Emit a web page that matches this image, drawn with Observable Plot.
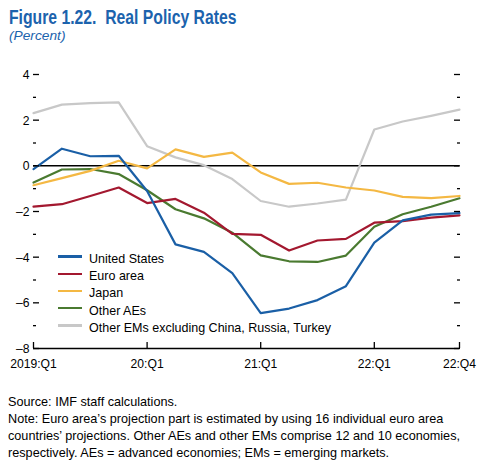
<!DOCTYPE html>
<html><head><meta charset="utf-8">
<script src="https://cdn.jsdelivr.net/npm/d3@7"></script>
<script src="https://cdn.jsdelivr.net/npm/@observablehq/plot@0.6"></script>
<style>
body{margin:0;background:#fff;width:480px;height:473px;position:relative;overflow:hidden;font-family:"Liberation Sans",Arial,sans-serif;color:#000}
.fit{display:inline-block;transform-origin:0 0;white-space:nowrap}
#title{position:absolute;left:8.5px;top:6px;font-weight:bold;font-size:19.5px;color:#1c63ad;line-height:normal}
#sub{position:absolute;left:8.5px;top:28.3px;font-style:italic;font-size:13.5px;color:#1c63ad;line-height:normal}
#chart{position:absolute;left:0;top:50px}
#legend{position:absolute;left:58px;top:249.9px;font-size:13.5px}
.row{display:flex;align-items:center;height:17.2px;white-space:nowrap}
.sw{width:24px;height:2.4px;margin-right:7px;position:relative;top:-1.8px;flex:none}
#caption{position:absolute;left:8.3px;top:392.5px;font-size:13.5px;line-height:17px}
</style></head>
<body>
<div id="title" class="fit">Figure 1.22.&nbsp; Real Policy Rates</div>
<div id="sub" class="fit">(Percent)</div>
<div id="chart"></div>
<div id="legend"></div>
<div id="caption" class="fit">Source: IMF staff calculations.<br>Note: Euro area’s projection part is estimated by using 16 individual euro area<br>countries’ projections. Other AEs and other EMs comprise 12 and 10 economies,<br>respectively. AEs = advanced economies; EMs = emerging markets.</div>
<script>
const quarters = ["2019:Q1","2019:Q2","2019:Q3","2019:Q4","2020:Q1","2020:Q2","2020:Q3","2020:Q4","2021:Q1","2021:Q2","2021:Q3","2021:Q4","2022:Q1","2022:Q2","2022:Q3","2022:Q4"];
const seriesNames = ["United States","Euro area","Japan","Other AEs","Other EMs excluding China, Russia, Turkey"];
const seriesColors = ["#1a5fa6","#a3182f","#f4b843","#4a7a30","#c8c8c8"];
const unitedStates = [-0.14, 0.75, 0.42, 0.44, -1.1, -3.44, -3.77, -4.7, -6.45, -6.25, -5.88, -5.27, -3.36, -2.39, -2.14, -2.07];
const euroArea = [-1.79, -1.68, -1.32, -0.95, -1.63, -1.45, -2.05, -2.98, -3.02, -3.71, -3.27, -3.2, -2.49, -2.42, -2.27, -2.17];
const japan = [-0.85, -0.54, -0.22, 0.22, -0.11, 0.72, 0.39, 0.58, -0.29, -0.79, -0.74, -0.95, -1.08, -1.36, -1.41, -1.32];
const otherAEs = [-0.73, -0.16, -0.14, -0.36, -1.07, -1.9, -2.3, -2.93, -3.92, -4.18, -4.21, -3.93, -2.67, -2.12, -1.79, -1.42];
const otherEMs = [2.31, 2.68, 2.75, 2.78, 0.86, 0.37, 0.03, -0.58, -1.54, -1.79, -1.65, -1.48, 1.59, 1.94, 2.19, 2.46];
const xTickIdx = [0, 4, 8, 12, 15];
const xTickLabels = ["2019:Q1","20:Q1","21:Q1","22:Q1","22:Q4"];
const yDomain = [-8, 4];
const yMajor = [-8, -6, -4, -2, 0, 2, 4];
const yMinor = [-7, -5, -3, -1, 1, 3];

const seriesValues = [unitedStates, euroArea, japan, otherAEs, otherEMs];
const drawOrder = [4, 3, 2, 1, 0];
const data = [];
for (const s of drawOrder) {
  seriesValues[s].forEach((v, i) => data.push({series: seriesNames[s], i, q: quarters[i], value: v}));
}
const fmtY = d => d < 0 ? "–" + Math.abs(d) : String(d);
const chart = Plot.plot({
  width: 480, height: 330,
  marginTop: 24, marginBottom: 32, marginLeft: 33, marginRight: 21,
  style: {fontFamily: '"Liberation Sans",Arial,sans-serif', fontSize: "13.5px", color: "#000", background: "transparent"},
  x: {domain: [0, 15]},
  y: {domain: yDomain},
  color: {domain: seriesNames, range: seriesColors},
  marks: [
    Plot.ruleY([0], {stroke: "#000", strokeWidth: 1.5}),
    Plot.lineY(data, {x: "i", y: "value", z: "series", stroke: "series", strokeWidth: 2.2}),
    Plot.ruleY([yDomain[0]], {stroke: "#000", strokeWidth: 1.3}),
    Plot.axisY(yMajor, {anchor: "left", tickSize: -6, tickPadding: 10, tickFormat: fmtY, label: null, strokeWidth: 1.3}),
    Plot.axisY(yMinor, {anchor: "left", tickSize: -3, tickFormat: () => "", label: null, strokeWidth: 1.3}),
    Plot.axisY(yMajor, {anchor: "right", tickSize: -6, tickFormat: () => "", label: null, strokeWidth: 1.3}),
    Plot.axisY(yMinor, {anchor: "right", tickSize: -3, tickFormat: () => "", label: null, strokeWidth: 1.3}),
    Plot.axisX(xTickIdx, {anchor: "bottom", tickSize: -6, tickPadding: 16, tickFormat: d => xTickLabels[xTickIdx.indexOf(d)], label: null, strokeWidth: 1.3})
  ]
});
document.getElementById("chart").appendChild(chart);
// condense svg tick labels (reference uses a condensed face)
chart.querySelectorAll("text").forEach(t => {
  const tr = t.getAttribute("transform");
  if (tr && !t.hasAttribute("x")) t.setAttribute("transform", tr + " scale(0.9,1)");
});

const legend = document.getElementById("legend");
const legendTexts = [];
seriesNames.forEach((n, k) => {
  const row = document.createElement("div");
  row.className = "row";
  const sw = document.createElement("span");
  sw.className = "sw";
  sw.style.background = seriesColors[k];
  const t = document.createElement("span");
  t.className = "fit";
  t.style.transformOrigin = "0 50%";
  t.textContent = n;
  row.appendChild(sw); row.appendChild(t);
  legend.appendChild(row);
  legendTexts.push(t);
});

function fitTo(el, target) {
  const w = el.getBoundingClientRect().width;
  const s = target / w;
  el.style.transform = `scaleX(${s})`;
  return s;
}
fitTo(document.getElementById("title"), 227.5);
fitTo(document.getElementById("sub"), 56.5);
fitTo(document.getElementById("caption"), 452);
const longest = legendTexts[4];
const ls = 242 / longest.getBoundingClientRect().width;
legendTexts.forEach(t => t.style.transform = `scaleX(${ls})`);
</script>
</body></html>
